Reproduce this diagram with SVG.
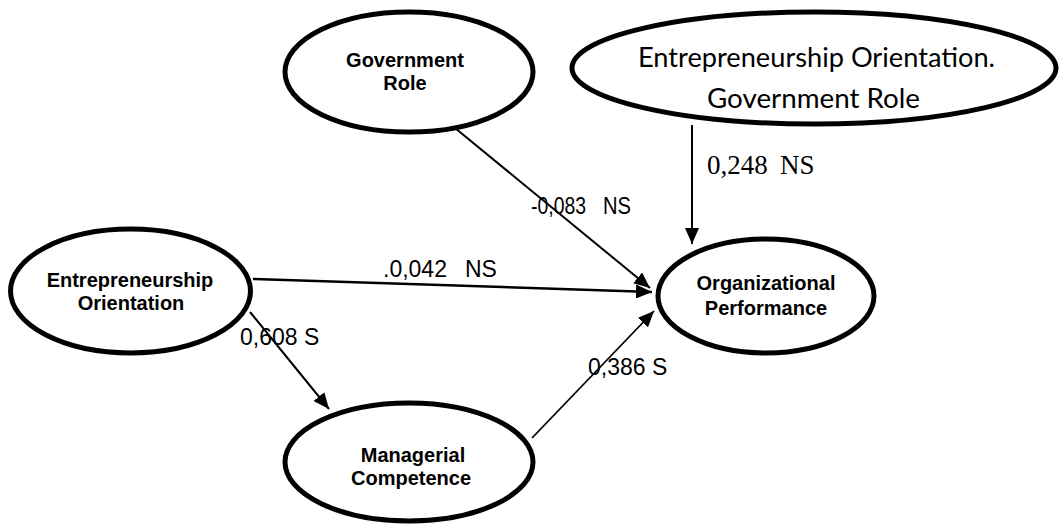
<svg xmlns="http://www.w3.org/2000/svg" width="1060" height="526" viewBox="0 0 1060 526">
<style>
.node{fill:#fff;stroke:#000;stroke-width:5}
.lbl{font-family:"Liberation Sans",Arial,sans-serif;font-weight:bold;font-size:20px;fill:#000;text-anchor:middle}
.big{font-family:Lato,"Open Sans",sans-serif;font-size:27px;fill:#000}
.num{font-family:"Liberation Sans",Arial,sans-serif;font-size:23px;fill:#000}
.tnum{font-family:"Liberation Serif","Times New Roman",serif;font-size:27px;fill:#000}
.edge{stroke:#000;fill:none;marker-end:url(#ah)}
</style>
<defs>
<marker id="ah" markerUnits="userSpaceOnUse" markerWidth="18" markerHeight="14" refX="16" refY="7" orient="auto">
<path d="M0,0 L16,7 L0,14 Z" fill="#000"/>
</marker>
</defs>
<g id="connectors">
<line class="edge" x1="455" y1="128" x2="650" y2="288" stroke-width="2"/>
<line class="edge" x1="253" y1="279" x2="652" y2="292" stroke-width="2.5"/>
<line class="edge" x1="250" y1="312" x2="329" y2="409" stroke-width="2"/>
<line class="edge" x1="532" y1="438" x2="654" y2="311" stroke-width="1.8"/>
<line class="edge" x1="692" y1="125" x2="692" y2="244" stroke-width="2"/>
</g>
<g id="labels">
<text class="num" x="531" y="214" font-size="22" textLength="55" lengthAdjust="spacingAndGlyphs">-0,083</text>
<text class="num" x="603" y="214" font-size="22" textLength="28" lengthAdjust="spacingAndGlyphs">NS</text>
<text class="tnum" x="707" y="174">0,248</text>
<text class="tnum" x="780" y="174">NS</text>
<text class="num" x="383" y="277">.0,042</text>
<text class="num" x="465" y="277">NS</text>
<text class="num" x="240" y="345">0,608 S</text>
<text class="num" x="588" y="375">0,386 S</text>
</g>
<g id="government-role">
<ellipse class="node" cx="409" cy="72" rx="124" ry="60"/>
<text class="lbl" x="405" y="67">Government</text>
<text class="lbl" x="405" y="90">Role</text>
</g>
<g id="eo-gr">
<ellipse class="node" cx="814" cy="68" rx="242" ry="56"/>
<text class="big" x="638" y="67" textLength="357" lengthAdjust="spacingAndGlyphs">Entrepreneurship Orientation.</text>
<text class="big" x="707" y="108" textLength="213" lengthAdjust="spacingAndGlyphs">Government Role</text>
</g>
<g id="entrepreneurship-orientation">
<ellipse class="node" cx="130.5" cy="291" rx="120" ry="62"/>
<text class="lbl" x="130" y="287">Entrepreneurship</text>
<text class="lbl" x="131" y="310">Orientation</text>
</g>
<g id="organizational-performance">
<ellipse class="node" cx="766" cy="296" rx="108" ry="57"/>
<text class="lbl" x="766" y="290">Organizational</text>
<text class="lbl" x="766" y="315">Performance</text>
</g>
<g id="managerial-competence">
<ellipse class="node" cx="409" cy="462" rx="124" ry="59"/>
<text class="lbl" x="413" y="462">Managerial</text>
<text class="lbl" x="411" y="485">Competence</text>
</g>
</svg>
